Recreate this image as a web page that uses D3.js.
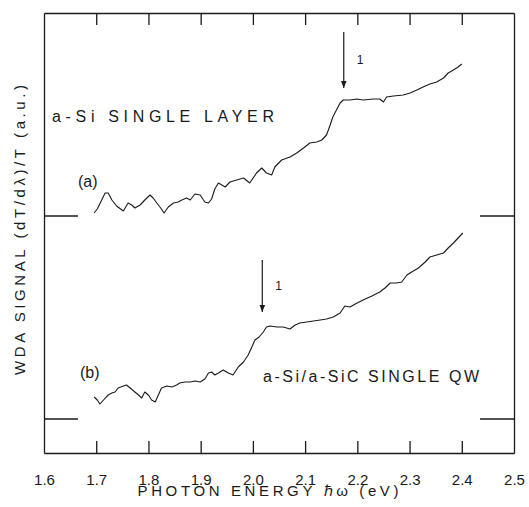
<!DOCTYPE html>
<html>
<head>
<meta charset="utf-8">
<script src="https://cdn.jsdelivr.net/npm/d3@7"></script>
<style>
  html, body { margin: 0; padding: 0; background: #fff; }
  svg { display: block; }
  text { font-family: "Liberation Sans", Arial, sans-serif; fill: #1a1a1a; }
</style>
</head>
<body>
<svg width="529" height="507"></svg>
<script>
// photon energy (eV) and WDA signal (a.u., both traces on one offset scale)
const energyA = [1.696, 1.702, 1.717, 1.723, 1.730, 1.739, 1.752, 1.761, 1.768, 1.774, 1.784, 1.793, 1.803, 1.809, 1.816, 1.822, 1.830, 1.838, 1.848, 1.857, 1.864, 1.873, 1.880, 1.889, 1.899, 1.908, 1.915, 1.921, 1.927, 1.934, 1.947, 1.956, 1.969, 1.982, 1.994, 2.007, 2.017, 2.026, 2.036, 2.042, 2.055, 2.071, 2.084, 2.097, 2.109, 2.122, 2.132, 2.141, 2.148, 2.153, 2.160, 2.167, 2.173, 2.186, 2.199, 2.211, 2.231, 2.243, 2.250, 2.256, 2.269, 2.288, 2.301, 2.314, 2.326, 2.339, 2.352, 2.365, 2.374, 2.384, 2.393, 2.400];
const signalA = [24.0, 24.4, 26.0, 26.0, 25.3, 24.7, 24.2, 25.0, 24.8, 24.5, 24.8, 25.3, 25.8, 25.5, 25.0, 24.6, 24.0, 24.6, 25.0, 25.1, 25.3, 25.5, 25.3, 25.9, 25.8, 25.1, 25.0, 25.4, 26.4, 27.0, 26.6, 27.1, 27.3, 27.5, 27.0, 28.0, 28.5, 28.0, 27.8, 28.6, 29.3, 29.6, 30.0, 30.5, 31.0, 31.1, 31.3, 31.8, 32.8, 33.6, 34.3, 35.0, 35.3, 35.3, 35.4, 35.3, 35.4, 35.4, 35.1, 35.6, 35.7, 35.8, 36.0, 36.3, 36.6, 36.9, 37.1, 37.5, 38.0, 38.3, 38.6, 38.9];

const energyB = [1.696, 1.702, 1.707, 1.714, 1.723, 1.730, 1.736, 1.742, 1.752, 1.758, 1.765, 1.774, 1.781, 1.787, 1.793, 1.800, 1.806, 1.813, 1.819, 1.825, 1.835, 1.845, 1.854, 1.860, 1.870, 1.880, 1.889, 1.899, 1.908, 1.915, 1.921, 1.927, 1.934, 1.943, 1.953, 1.962, 1.972, 1.982, 1.991, 1.998, 2.004, 2.012, 2.020, 2.026, 2.033, 2.046, 2.058, 2.071, 2.081, 2.090, 2.103, 2.116, 2.129, 2.141, 2.154, 2.167, 2.176, 2.186, 2.196, 2.211, 2.228, 2.243, 2.253, 2.263, 2.275, 2.285, 2.295, 2.304, 2.317, 2.330, 2.339, 2.352, 2.365, 2.374, 2.384, 2.393, 2.402];
const signalB = [5.6, 5.3, 4.9, 5.3, 5.8, 6.0, 6.1, 6.5, 6.7, 6.8, 6.5, 6.1, 5.8, 5.5, 6.1, 5.8, 5.3, 5.1, 5.8, 6.5, 6.7, 6.6, 6.8, 7.0, 7.1, 7.1, 7.2, 7.1, 7.4, 8.0, 8.1, 7.8, 8.0, 8.3, 8.0, 7.8, 8.6, 9.1, 9.8, 10.6, 11.3, 11.6, 12.1, 12.6, 12.7, 12.6, 12.6, 12.4, 12.8, 13.0, 13.1, 13.2, 13.3, 13.4, 13.6, 14.0, 14.7, 14.6, 14.9, 15.3, 15.7, 16.1, 16.5, 17.0, 17.0, 17.1, 17.8, 18.1, 18.5, 19.1, 19.6, 19.8, 20.0, 20.5, 21.0, 21.5, 22.0];

const xTicks = [1.6, 1.7, 1.8, 1.9, 2.0, 2.1, 2.2, 2.3, 2.4, 2.5];
const yLimits = [0, 44];                // signal range of the frame
const baselines = [23.7, 3.4];          // zero-level marks for (a) and (b)
const baselineEnds = [1.665, 2.435];    // inner ends of those marks
const arrowEnergy = [2.174, 2.018];     // feature "1" in (a) and (b)
const arrowTop = [42.1, 19.3];
const arrowTip = [36.5, 14.1];

const W = 529, H = 507;
const margin = { top: 13, right: 15, bottom: 54, left: 44 };

const svg = d3.select("svg");

const xMin = xTicks[0], xMax = xTicks[xTicks.length - 1];
const yMin = yLimits[0], yMax = yLimits[1];

const x = d3.scaleLinear().domain([xMin, xMax]).range([margin.left, W - margin.right]);
const y = d3.scaleLinear().domain(yLimits).range([H - margin.bottom, margin.top]);

const ink = "#1a1a1a";

// axes on all four sides make the frame; ticks point inward
const bottomAxis = svg.append("g")
    .attr("transform", `translate(0,${y(yMin)})`)
    .call(d3.axisBottom(x).tickValues(xTicks).tickSizeInner(-12).tickSizeOuter(0)
        .tickPadding(21).tickFormat(d3.format(".1f")));
const topAxis = svg.append("g")
    .attr("transform", `translate(0,${y(yMax)})`)
    .call(d3.axisTop(x).tickValues(xTicks).tickSizeInner(-12).tickSizeOuter(0).tickFormat(""));
const leftAxis = svg.append("g")
    .attr("transform", `translate(${x(xMin)},0)`)
    .call(d3.axisLeft(y).tickValues([]).tickSizeOuter(0));
const rightAxis = svg.append("g")
    .attr("transform", `translate(${x(xMax)},0)`)
    .call(d3.axisRight(y).tickValues([]).tickSizeOuter(0));

[bottomAxis, topAxis, leftAxis, rightAxis].forEach(g => {
    g.select(".domain").attr("stroke", ink).attr("stroke-width", 1.3);
    g.selectAll(".tick line")
        .attr("stroke", ink).attr("stroke-width", 1.3)
        .attr("display", d => (d === xMin || d === xMax) ? "none" : null);
});
bottomAxis.selectAll(".tick text")
    .attr("font-size", 15).attr("fill", ink)
    .style("font-family", "'Liberation Sans', Arial, sans-serif");

// zero-level marks on both sides
baselines.forEach(b => {
    svg.append("line")
        .attr("x1", x(xMin)).attr("x2", x(baselineEnds[0]))
        .attr("y1", y(b)).attr("y2", y(b))
        .attr("stroke", ink).attr("stroke-width", 1.3);
    svg.append("line")
        .attr("x1", x(baselineEnds[1])).attr("x2", x(xMax))
        .attr("y1", y(b)).attr("y2", y(b))
        .attr("stroke", ink).attr("stroke-width", 1.3);
});

// traces
const line = d3.line().x(d => x(d[0])).y(d => y(d[1]));
[[energyA, signalA], [energyB, signalB]].forEach(([e, s]) => {
    svg.append("path")
        .datum(e.map((v, i) => [v, s[i]]))
        .attr("d", line)
        .attr("fill", "none")
        .attr("stroke", ink)
        .attr("stroke-width", 1.1)
        .attr("stroke-linejoin", "round");
});

// arrows marking feature 1
svg.append("defs").append("marker")
    .attr("id", "head")
    .attr("viewBox", "0 0 10 10")
    .attr("refX", 10).attr("refY", 5)
    .attr("markerWidth", 7).attr("markerHeight", 7)
    .attr("markerUnits", "userSpaceOnUse")
    .attr("orient", "auto")
    .append("path").attr("d", "M0,1 L10,5 L0,9 Z").attr("fill", ink);

arrowEnergy.forEach((e, i) => {
    svg.append("line")
        .attr("x1", x(e)).attr("x2", x(e))
        .attr("y1", y(arrowTop[i])).attr("y2", y(arrowTip[i]))
        .attr("stroke", ink).attr("stroke-width", 1.2)
        .attr("marker-end", "url(#head)");
    svg.append("text")
        .attr("x", x(e) + 13).attr("y", (y(arrowTop[i]) + y(arrowTip[i])) / 2 + 4)
        .attr("font-size", 12)
        .text("1");
});

// labels inside the plot
svg.append("text").attr("x", 52).attr("y", 122)
    .attr("font-size", 16).attr("textLength", 222).attr("lengthAdjust", "spacing")
    .text("a-Si  SINGLE LAYER");
svg.append("text").attr("x", 78).attr("y", 187)
    .attr("font-size", 16).text("(a)");
svg.append("text").attr("x", 80).attr("y", 378)
    .attr("font-size", 16).text("(b)");
svg.append("text").attr("x", 263).attr("y", 382)
    .attr("font-size", 16).attr("textLength", 216).attr("lengthAdjust", "spacing")
    .text("a-Si/a-SiC SINGLE QW");

// axis titles
svg.append("text")
    .attr("x", 268).attr("y", 496)
    .attr("text-anchor", "middle")
    .attr("font-size", 15).attr("textLength", 261).attr("lengthAdjust", "spacing")
    .text("PHOTON ENERGY \u210Fω (eV)");

svg.append("text")
    .attr("transform", "translate(25,230) rotate(-90)")
    .attr("text-anchor", "middle")
    .attr("font-size", 15).attr("textLength", 290).attr("lengthAdjust", "spacing")
    .text("WDA  SIGNAL  (dT/dλ)/T   (a.u.)");
</script>
</body>
</html>
